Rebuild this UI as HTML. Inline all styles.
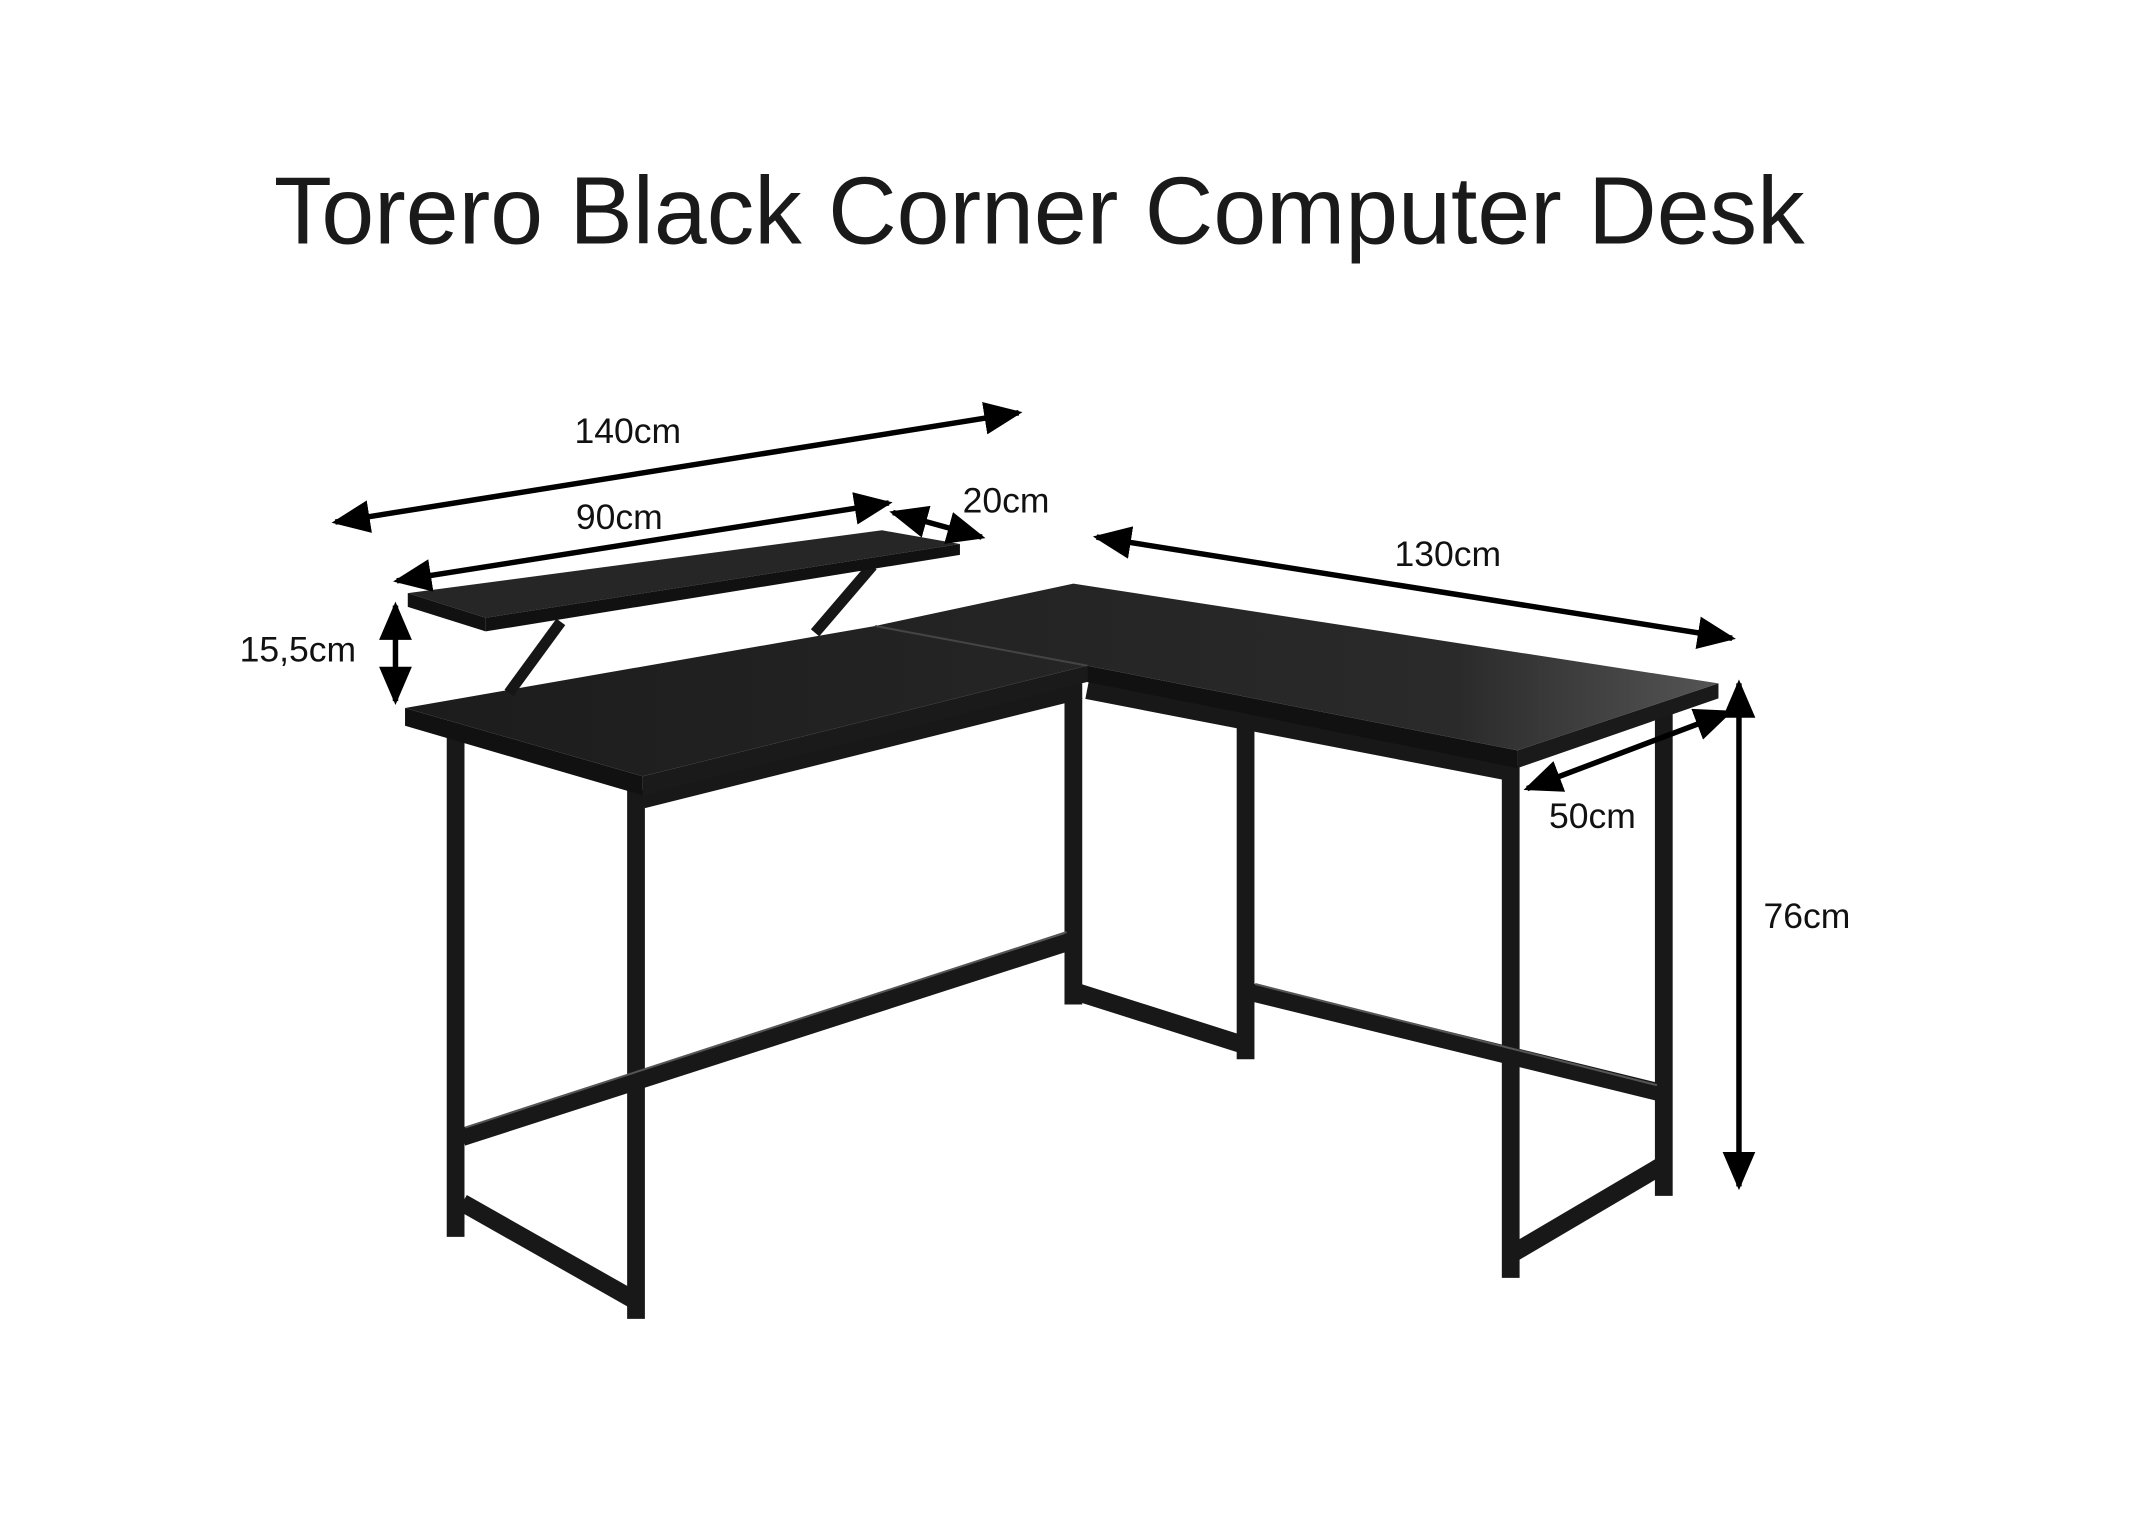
<!DOCTYPE html>
<html><head><meta charset="utf-8"><style>
html,body{margin:0;padding:0;background:#fff;}
svg{display:block;}
text{font-family:"Liberation Sans",sans-serif;fill:#111;}
</style></head><body>
<svg width="2144" height="1528" viewBox="0 0 1568 1118" xmlns="http://www.w3.org/2000/svg">
<defs>
<marker id="a" viewBox="0 0 10 10" refX="9" refY="5" markerWidth="7" markerHeight="6" orient="auto-start-reverse" markerUnits="strokeWidth" preserveAspectRatio="none">
<path d="M0,0 L10,5 L0,10 z" fill="#000"/></marker>
<linearGradient id="g" x1="0" y1="0" x2="1" y2="0">
<stop offset="0" stop-color="#1c1c1c"/><stop offset="0.8" stop-color="#2a2a2a"/><stop offset="1" stop-color="#555"/></linearGradient>
</defs>
<rect width="1568" height="1118" fill="#fff"/>
<text x="200" y="178" font-size="70" textLength="1120" lengthAdjust="spacingAndGlyphs" style="fill:#1a1a1a">Torero Black Corner Computer Desk</text>

<g stroke="#181818" stroke-width="13" fill="none" stroke-linecap="butt">
<line x1="333" y1="535" x2="333" y2="905"/>
<line x1="465" y1="578" x2="465" y2="965"/>
<line x1="785" y1="500" x2="785" y2="735"/>
<line x1="911" y1="528" x2="911" y2="775"/>
<line x1="1105" y1="560" x2="1105" y2="935"/>
<line x1="1217" y1="518" x2="1217" y2="875"/>
<line x1="338" y1="832" x2="785" y2="688"/>
<line x1="338" y1="880" x2="465" y2="952"/>
<line x1="785" y1="725" x2="911" y2="765"/>
<line x1="911" y1="725" x2="1217" y2="800"/>
<line x1="1105" y1="918" x2="1217" y2="852"/>
<line x1="470" y1="585" x2="790" y2="505"/>
<line x1="795" y1="505" x2="1105" y2="565"/>
</g>
<g stroke="#555" stroke-width="1.5" fill="none">
<line x1="340" y1="825" x2="780" y2="682"/>
<line x1="918" y1="720" x2="1212" y2="794"/>
</g>

<polygon points="296,518 470,568 470,582 296,531" fill="#111"/>
<polygon points="470,568 795,487 795,499 470,582" fill="#1a1a1a"/>
<polygon points="795,487 1110,549 1110,562 795,499" fill="#111"/>
<polygon points="1110,549 1257,500 1257,511 1110,562" fill="#1a1a1a"/>
<polygon points="296,518 640,458 785,427 1257,500 1110,549 795,487 470,568" fill="url(#g)"/>
<line x1="640" y1="458" x2="795" y2="487" stroke="#444" stroke-width="1.5"/>

<g stroke="#161616" stroke-width="8">
<line x1="410" y1="455" x2="372" y2="507"/>
<line x1="638" y1="414" x2="596" y2="463"/>
</g>
<polygon points="298,434 645,388 702,398 355,452" fill="#262626"/>
<polygon points="298,434 355,452 355,462 298,444" fill="#111"/>
<polygon points="355,452 702,398 702,406 355,462" fill="#111"/>

<g stroke="#000" stroke-width="4" marker-start="url(#a)" marker-end="url(#a)">
<line x1="245" y1="382" x2="745" y2="302"/>
<line x1="290" y1="425" x2="650" y2="368"/>
<line x1="653" y1="375" x2="718" y2="393"/>
<line x1="802" y1="393" x2="1267" y2="467"/>
<line x1="289" y1="443" x2="289" y2="513"/>
<line x1="1117" y1="577" x2="1265" y2="521"/>
<line x1="1272" y1="500" x2="1272" y2="868"/>
</g>
<g font-size="26">
<text x="420" y="324">140cm</text>
<text x="421" y="387">90cm</text>
<text x="704" y="375">20cm</text>
<text x="1020" y="414">130cm</text>
<text x="175" y="484">15,5cm</text>
<text x="1133" y="606">50cm</text>
<text x="1290" y="679">76cm</text>
</g>
</svg>
</body></html>
